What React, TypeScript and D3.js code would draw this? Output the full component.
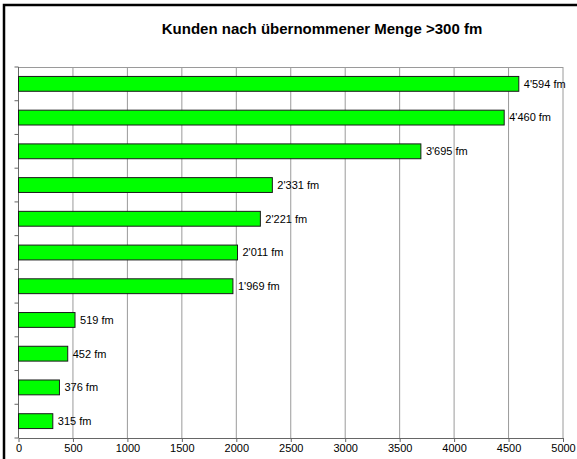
import React, { useEffect, useRef } from "react";
import * as d3 from "d3";

const customers = ["K1", "K2", "K3", "K4", "K5", "K6", "K7", "K8", "K9", "K10", "K11"];
const volumes = [4594, 4460, 3695, 2331, 2221, 2011, 1969, 519, 452, 376, 315];
const xTicks = [0, 500, 1000, 1500, 2000, 2500, 3000, 3500, 4000, 4500, 5000];
const title = "Kunden nach übernommener Menge >300 fm";

const fmt = (v: number) => d3.format(",")(v).replace(/,/g, "'") + " fm";

export default function App() {
  const svgRef = useRef<SVGSVGElement>(null);

  useEffect(() => {
    const W = 577;
    const H = 459;
    const margin = { top: 67, right: 14, bottom: 21, left: 18.5 };
    const width = W - margin.left - margin.right;
    const height = H - margin.top - margin.bottom;

    const root = d3.select(svgRef.current);
    root.selectAll("*").remove();
    root.attr("width", W).attr("height", H);

    root.append("rect").attr("width", W).attr("height", H).attr("fill", "#fff");
    root
      .append("rect")
      .attr("x", 4)
      .attr("y", 5)
      .attr("width", 700)
      .attr("height", 600)
      .attr("fill", "none")
      .attr("stroke", "#000")
      .attr("stroke-width", 2.5);

    root
      .append("text")
      .attr("x", 322)
      .attr("y", 34)
      .attr("text-anchor", "middle")
      .style("font-family", "Liberation Sans, Arial, sans-serif")
      .style("font-size", "15px")
      .style("font-weight", "bold")
      .text(title);

    const svg = root.append("g").attr("transform", `translate(${margin.left},${margin.top})`);

    const x = d3.scaleLinear().domain([0, 5000]).range([0, width]);
    const y = d3.scaleBand().domain(customers).range([0, height]).paddingInner(0.56).paddingOuter(0.28);
    const step = y.step();

    // vertical grid
    svg
      .append("g")
      .selectAll("line")
      .data(xTicks)
      .join("line")
      .attr("x1", (d) => x(d))
      .attr("x2", (d) => x(d))
      .attr("y1", 0)
      .attr("y2", height)
      .attr("stroke", "#9a9a9a")
      .attr("stroke-width", 1);

    // top line
    svg
      .append("line")
      .attr("x1", 0)
      .attr("x2", width)
      .attr("y1", 0.5)
      .attr("y2", 0.5)
      .attr("stroke", "#9a9a9a");

    // left axis with ticks at band boundaries
    svg
      .append("line")
      .attr("x1", 0)
      .attr("x2", 0)
      .attr("y1", 0)
      .attr("y2", height)
      .attr("stroke", "#666");
    svg
      .append("g")
      .selectAll("line")
      .data(d3.range(customers.length + 1))
      .join("line")
      .attr("x1", -4)
      .attr("x2", 0)
      .attr("y1", (i) => i * step)
      .attr("y2", (i) => i * step)
      .attr("stroke", "#666");

    // bottom axis
    const xAxis = d3.axisBottom(x).tickValues(xTicks).tickSize(4).tickSizeOuter(0).tickFormat(d3.format("d"));
    const ax = svg.append("g").attr("transform", `translate(0,${height})`).call(xAxis);
    ax.select(".domain").attr("stroke", "#666");
    ax.selectAll(".tick line").attr("stroke", "#666");
    ax.selectAll("text")
      .attr("dy", "0.6em")
      .attr("fill", "#000")
      .style("font-family", "Liberation Sans, Arial, sans-serif")
      .style("font-size", "11px");

    // bars
    svg
      .append("g")
      .selectAll("rect")
      .data(volumes)
      .join("rect")
      .attr("x", 0)
      .attr("y", (_, i) => y(customers[i])!)
      .attr("width", (d) => x(d))
      .attr("height", y.bandwidth())
      .attr("fill", "#00ff00")
      .attr("stroke", "#1a1a1a")
      .attr("stroke-width", 1);

    svg
      .append("g")
      .selectAll("text")
      .data(volumes)
      .join("text")
      .attr("x", (d) => x(d) + 5)
      .attr("y", (_, i) => y(customers[i])! + y.bandwidth() / 2)
      .attr("dy", "0.35em")
      .style("font-family", "Liberation Sans, Arial, sans-serif")
      .style("font-size", "11px")
      .text((d) => fmt(d));
  }, []);

  return (
    <div style={{ position: "absolute", left: 0, top: 0 }}>
      <svg ref={svgRef}></svg>
    </div>
  );
}
